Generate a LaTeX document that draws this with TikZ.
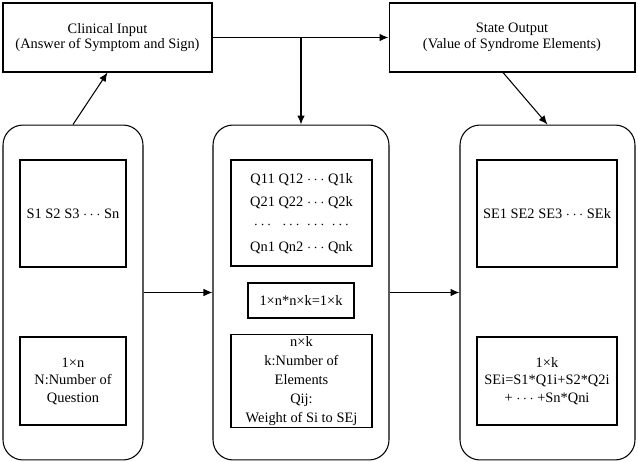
\documentclass[tikz,border=0pt]{standalone}
\usepackage{fontspec}
\setmainfont{Liberation Serif}
\usetikzlibrary{arrows.meta}
\tikzset{>={Latex[width=1.5mm,length=1.8mm]}}

\begin{document}
\begin{tikzpicture}[x=0.02cm,y=-0.02cm,font=\fontsize{8.2}{10}\selectfont,line width=0.6pt]
\tikzstyle{top}=[draw,align=center,minimum height=1.38cm,font=\fontsize{8.2}{8.8}\selectfont]
\tikzstyle{big}=[draw,rounded corners=0.4cm,minimum width=2.8cm,minimum height=6.7cm]
\tikzstyle{b}=[draw,align=center,inner sep=1pt]
    \useasboundingbox (0,0) rectangle (638,462);

    \node[top, minimum width=4.18cm] (input) at (107.5,37.5){Clinical Input\\(Answer of Symptom and Sign)};
    \node[top, minimum width=4.92cm] (output) at (512,37.5){State Output\\(Value of Syndrome Elements)};

    \node[big] (left) at (73,292.5){};
    \node[big, minimum width=3.52cm] (mid) at (301,292.5){};
    \node[big, minimum width=3.5cm] (right) at (547.5,292.5){};

    \node[b, minimum width=2.12cm, minimum height=2.14cm] (s) at (73,213.5){S1 S2 S3 $\cdots$ Sn};
    \node[b, minimum width=2.12cm, minimum height=1.76cm] (n) at (73,381){1×n\\N:Number of\\Question};

    \node[b, minimum width=2.82cm, minimum height=2.12cm] (q) at (301.5,213){%
      \renewcommand{\arraystretch}{1.3}%
      \begin{tabular}{@{}c@{ }c@{ }c@{ }c@{}}
      Q11 & Q12 & $\cdots$ & Q1k\\
      Q21 & Q22 & $\cdots$ & Q2k\\
      $\cdots$ & $\cdots$ & $\cdots$ & $\cdots$\\
      Qn1 & Qn2 & $\cdots$ & Qnk
      \end{tabular}};
    \node[b, minimum width=2.12cm, minimum height=0.7cm] (mul) at (301,300.5){1×n*n×k=1×k};
    \node[b, minimum width=2.82cm, minimum height=1.76cm, font=\fontsize{8.2}{10.8}\selectfont] (w) at (301.5,381){n×k\\k:Number of\\Elements\\Qij:\\Weight of Si to SEj};

    \node[b, minimum width=2.8cm, minimum height=2.14cm] (se) at (547,213.5){SE1 SE2 SE3 $\cdots$ SEk};
    \node[b, minimum width=2.8cm, minimum height=1.76cm] (k) at (547,381){1×k\\SEi=S1*Q1i+S2*Q2i\\+ $\cdots$ +Sn*Qni};

    \coordinate (branch) at (mid.north |- input.east);

    \draw[->] (input.east) -- (output.west);
    \draw[->] (branch) -- (mid.north);
    \draw[->] (left.north) -- (input.south);
    \draw[->] ([xshift=-0.18cm]output.south) -- (right.north);
    \draw[->] (left.east) -- (mid.west);
    \draw[->] (mid.east) -- (right.west);

\end{tikzpicture}
\end{document}
